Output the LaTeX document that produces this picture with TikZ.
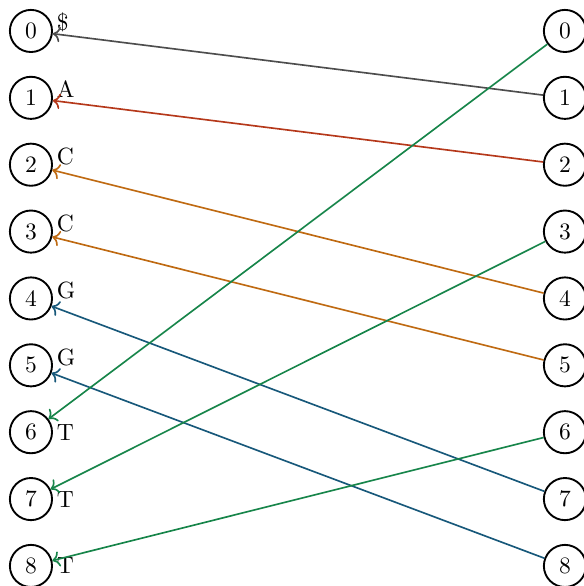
\documentclass[tikz,border=0pt]{standalone}
\usetikzlibrary{arrows.meta}
\definecolor{cgray}{HTML}{4D4D4D}
\definecolor{cred}{HTML}{B5381A}
\definecolor{corange}{HTML}{BF6A12}
\definecolor{cgreen}{HTML}{17854A}
\definecolor{cblue}{HTML}{17587A}
\tikzset{
  vtx/.style={circle,draw,line width=0.8pt,minimum size=0.63cm,inner sep=1pt},
  lab/.style={inner sep=1.5pt},
  edge/.style={line width=0.7pt,->},
}
\begin{document}
\begin{tikzpicture}
\useasboundingbox (-0.463,0.463) rectangle (8.265,-8.30);
\foreach \i in {0,...,8}{
  \node[vtx] (L\i) at (0,-\i) {\i};
  \node[vtx] (R\i) at (7.985,-\i) {\i};
}
\node[lab,anchor=base west] (t0) at (L0.east) {\$};
\node[lab,anchor=base west] (t1) at (L1.east) {A};
\node[lab,anchor=base west] (t2) at (L2.east) {C};
\node[lab,anchor=base west] (t3) at (L3.east) {C};
\node[lab,anchor=base west] (t4) at (L4.east) {G};
\node[lab,anchor=base west] (t5) at (L5.east) {G};
\node[lab,anchor=west] (t6) at (L6.east) {T};
\node[lab,anchor=west] (t7) at (L7.east) {T};
\node[lab,anchor=west] (t8) at (L8.east) {T};
\draw[edge,cgray] (R1) -- (L0);
\draw[edge,cred] (R2) -- (L1);
\draw[edge,corange] (R4) -- (L2);
\draw[edge,corange] (R5) -- (L3);
\draw[edge,cblue] (R7) -- (L4);
\draw[edge,cblue] (R8) -- (L5);
\draw[edge,cgreen] (R0) -- (L6);
\draw[edge,cgreen] (R3) -- (L7);
\draw[edge,cgreen] (R6) -- (L8);
\end{tikzpicture}
\end{document}
